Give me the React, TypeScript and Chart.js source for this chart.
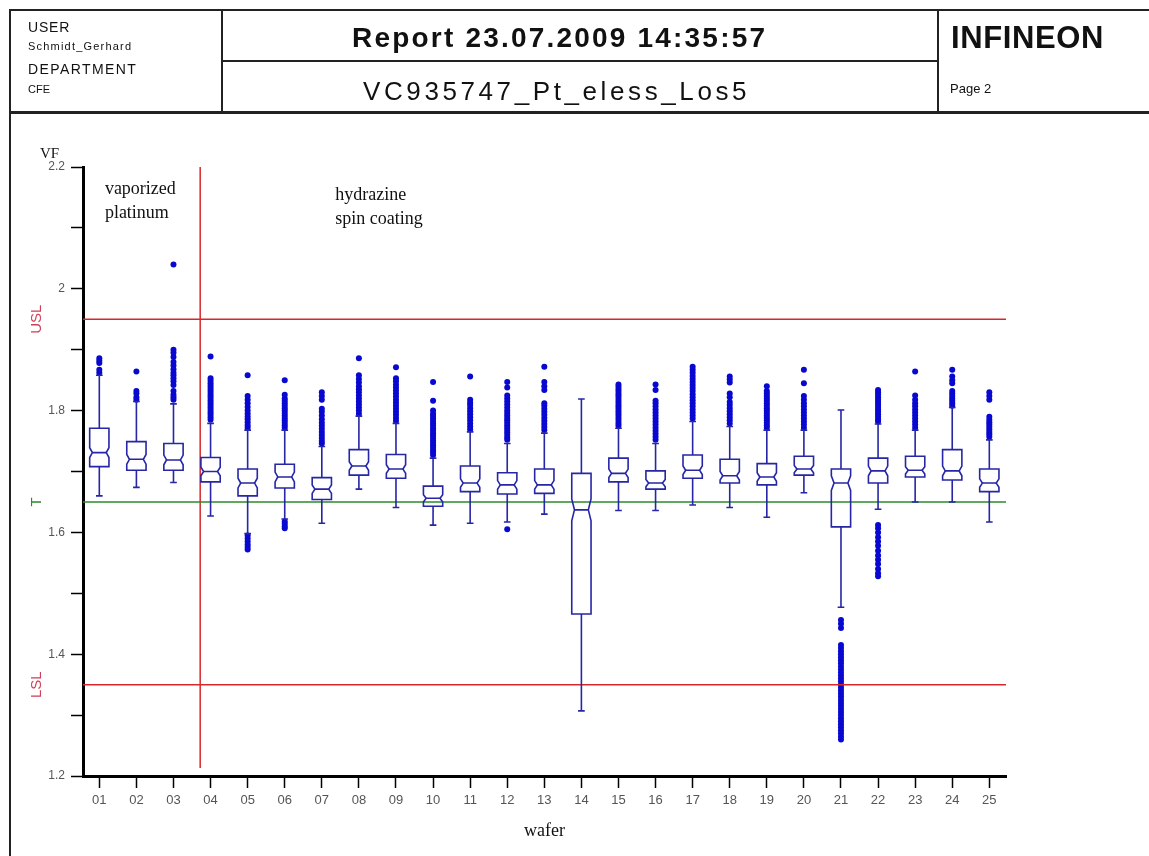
import { useEffect, useRef } from 'react';
import { Chart, registerables } from 'chart.js';

Chart.register(...registerables);

// ---------------- data ----------------
const wafers = ['01', '02', '03', '04', '05', '06', '07', '08', '09', '10', '11', '12', '13', '14', '15', '16', '17', '18', '19', '20', '21', '22', '23', '24', '25'];

const whiskerLow = [1.660, 1.674, 1.682, 1.627, 1.598, 1.622, 1.615, 1.671, 1.641, 1.612, 1.615, 1.617, 1.630, 1.307, 1.636, 1.636, 1.645, 1.641, 1.625, 1.665, 1.477, 1.638, 1.650, 1.650, 1.617];
const q1 = [1.708, 1.702, 1.702, 1.683, 1.660, 1.673, 1.654, 1.694, 1.689, 1.643, 1.667, 1.663, 1.664, 1.466, 1.683, 1.671, 1.689, 1.681, 1.678, 1.694, 1.609, 1.681, 1.691, 1.686, 1.667];
const median = [1.731, 1.720, 1.719, 1.700, 1.681, 1.691, 1.671, 1.709, 1.704, 1.656, 1.681, 1.678, 1.678, 1.637, 1.697, 1.681, 1.702, 1.693, 1.691, 1.704, 1.681, 1.701, 1.702, 1.701, 1.681];
const q3 = [1.771, 1.749, 1.746, 1.723, 1.704, 1.712, 1.690, 1.736, 1.728, 1.676, 1.709, 1.698, 1.704, 1.697, 1.722, 1.701, 1.727, 1.720, 1.713, 1.725, 1.704, 1.722, 1.725, 1.736, 1.704];
const whiskerHigh = [1.858, 1.815, 1.811, 1.779, 1.768, 1.768, 1.741, 1.791, 1.779, 1.722, 1.765, 1.746, 1.763, 1.819, 1.771, 1.746, 1.782, 1.774, 1.768, 1.768, 1.801, 1.778, 1.768, 1.805, 1.752];
const notchHalf = [0.008, 0.008, 0.008, 0.007, 0.008, 0.008, 0.007, 0.007, 0.007, 0.006, 0.007, 0.007, 0.007, 0.018, 0.007, 0.006, 0.007, 0.007, 0.007, 0.006, 0.012, 0.008, 0.006, 0.008, 0.007];

const outliers01 = [1.862, 1.867, 1.878, 1.882, 1.886];
const outliers02 = [1.818, 1.822, 1.828, 1.832, 1.864];
const outliers03 = [1.818, 1.822, 1.826, 1.832, 1.842, 1.848, 1.853, 1.858, 1.862, 1.868, 1.874, 1.880, 1.888, 1.895, 1.900, 2.040];
const outliers04 = [1.785, 1.789, 1.793, 1.797, 1.801, 1.805, 1.809, 1.813, 1.817, 1.821, 1.825, 1.829, 1.833, 1.837, 1.841, 1.845, 1.849, 1.853, 1.889];
const outliers05 = [1.572, 1.576, 1.580, 1.585, 1.590, 1.595, 1.772, 1.776, 1.781, 1.786, 1.790, 1.795, 1.800, 1.806, 1.812, 1.818, 1.824, 1.858];
const outliers06 = [1.607, 1.610, 1.614, 1.618, 1.772, 1.776, 1.780, 1.784, 1.788, 1.792, 1.796, 1.800, 1.804, 1.808, 1.812, 1.816, 1.820, 1.826, 1.850];
const outliers07 = [1.746, 1.750, 1.755, 1.760, 1.765, 1.770, 1.775, 1.780, 1.786, 1.792, 1.798, 1.803, 1.818, 1.824, 1.830];
const outliers08 = [1.795, 1.800, 1.805, 1.810, 1.815, 1.820, 1.825, 1.830, 1.835, 1.840, 1.846, 1.852, 1.858, 1.886];
const outliers09 = [1.783, 1.788, 1.793, 1.798, 1.803, 1.808, 1.813, 1.818, 1.823, 1.828, 1.833, 1.838, 1.843, 1.848, 1.853, 1.871];
const outliers10 = [1.727, 1.731, 1.735, 1.739, 1.743, 1.747, 1.751, 1.755, 1.759, 1.763, 1.767, 1.771, 1.775, 1.779, 1.783, 1.787, 1.791, 1.795, 1.800, 1.816, 1.847];
const outliers11 = [1.769, 1.774, 1.779, 1.784, 1.789, 1.794, 1.799, 1.804, 1.809, 1.813, 1.818, 1.856];
const outliers12 = [1.605, 1.752, 1.756, 1.760, 1.764, 1.768, 1.772, 1.776, 1.780, 1.784, 1.788, 1.792, 1.796, 1.800, 1.805, 1.810, 1.815, 1.820, 1.825, 1.838, 1.847];
const outliers13 = [1.768, 1.773, 1.778, 1.783, 1.788, 1.793, 1.798, 1.803, 1.808, 1.812, 1.834, 1.840, 1.847, 1.872];
const outliers14: number[] = [];
const outliers15 = [1.775, 1.779, 1.783, 1.787, 1.791, 1.795, 1.799, 1.803, 1.807, 1.811, 1.815, 1.819, 1.823, 1.827, 1.831, 1.835, 1.839, 1.843];
const outliers16 = [1.752, 1.757, 1.762, 1.767, 1.772, 1.777, 1.782, 1.787, 1.792, 1.797, 1.802, 1.807, 1.812, 1.816, 1.834, 1.843];
const outliers17 = [1.787, 1.792, 1.797, 1.802, 1.807, 1.812, 1.817, 1.822, 1.827, 1.832, 1.837, 1.842, 1.847, 1.852, 1.857, 1.862, 1.867, 1.872];
const outliers18 = [1.779, 1.784, 1.789, 1.794, 1.799, 1.804, 1.809, 1.814, 1.822, 1.828, 1.846, 1.851, 1.856];
const outliers19 = [1.772, 1.776, 1.780, 1.784, 1.788, 1.792, 1.796, 1.800, 1.804, 1.808, 1.812, 1.816, 1.820, 1.824, 1.828, 1.832, 1.840];
const outliers20 = [1.772, 1.777, 1.782, 1.787, 1.792, 1.797, 1.802, 1.807, 1.812, 1.818, 1.824, 1.845, 1.867];
const outliers21 = [1.260, 1.265, 1.270, 1.275, 1.280, 1.285, 1.290, 1.295, 1.300, 1.305, 1.310, 1.315, 1.320, 1.325, 1.330, 1.335, 1.340, 1.345, 1.350, 1.355, 1.360, 1.365, 1.370, 1.375, 1.380, 1.385, 1.390, 1.395, 1.400, 1.405, 1.410, 1.415, 1.443, 1.450, 1.456];
const outliers22 = [1.528, 1.533, 1.540, 1.548, 1.555, 1.562, 1.570, 1.578, 1.585, 1.592, 1.600, 1.607, 1.612, 1.782, 1.786, 1.790, 1.794, 1.798, 1.802, 1.806, 1.810, 1.814, 1.818, 1.822, 1.826, 1.830, 1.834];
const outliers23 = [1.772, 1.777, 1.782, 1.787, 1.792, 1.797, 1.802, 1.807, 1.812, 1.818, 1.825, 1.864];
const outliers24 = [1.808, 1.812, 1.816, 1.820, 1.824, 1.828, 1.832, 1.845, 1.850, 1.856, 1.867];
const outliers25 = [1.757, 1.761, 1.765, 1.769, 1.773, 1.777, 1.781, 1.785, 1.790, 1.818, 1.824, 1.830];

const outliers = [outliers01, outliers02, outliers03, outliers04, outliers05, outliers06, outliers07, outliers08, outliers09, outliers10, outliers11, outliers12, outliers13, outliers14, outliers15, outliers16, outliers17, outliers18, outliers19, outliers20, outliers21, outliers22, outliers23, outliers24, outliers25];

const yLabelTicks = [1.2, 1.4, 1.6, 1.8, 2, 2.2];
const yMinorTicks = [1.3, 1.5, 1.7, 1.9, 2.1];

const USL = 1.95;
const TARGET = 1.65;
const LSL = 1.35;
const SPLIT_X = 3.72;
const SPLIT_Y_LOW = 1.213;

const Y_MIN = 1.2;
const Y_MAX = 2.2;
const X_MIN = 0.56;
const X_MAX = 25.45;

// ---------------- styles ----------------
const BOX_COLOR = '#2626a6';
const DOT_COLOR = '#0808d0';
const RED = '#d8272b';
const GREEN = '#2b8a2b';
const BOX_HALF = 0.26;
const NOTCH_RATIO = 0.72;
const CAP_HALF = 0.09;

const boxPlugin = {
  id: 'notchedBoxes',
  afterDatasetsDraw(chart: any) {
    const { ctx } = chart;
    const xs = chart.scales.x;
    const ys = chart.scales.y;
    const halfW = xs.getPixelForValue(1 + BOX_HALF) - xs.getPixelForValue(1);
    const notchW = halfW * NOTCH_RATIO;
    const capW = xs.getPixelForValue(1 + CAP_HALF) - xs.getPixelForValue(1);
    ctx.save();
    ctx.strokeStyle = BOX_COLOR;
    ctx.lineWidth = 1.6;
    wafers.forEach((_, i) => {
      const cx = xs.getPixelForValue(i + 1);
      const pQ3 = ys.getPixelForValue(q3[i]);
      const pQ1 = ys.getPixelForValue(q1[i]);
      const pM = ys.getPixelForValue(median[i]);
      const pNH = ys.getPixelForValue(median[i] + notchHalf[i]);
      const pNL = ys.getPixelForValue(median[i] - notchHalf[i]);
      const pWH = ys.getPixelForValue(whiskerHigh[i]);
      const pWL = ys.getPixelForValue(whiskerLow[i]);
      ctx.beginPath();
      ctx.moveTo(cx - halfW, pQ3);
      ctx.lineTo(cx + halfW, pQ3);
      ctx.lineTo(cx + halfW, pNH);
      ctx.lineTo(cx + notchW, pM);
      ctx.lineTo(cx + halfW, pNL);
      ctx.lineTo(cx + halfW, pQ1);
      ctx.lineTo(cx - halfW, pQ1);
      ctx.lineTo(cx - halfW, pNL);
      ctx.lineTo(cx - notchW, pM);
      ctx.lineTo(cx - halfW, pNH);
      ctx.closePath();
      ctx.stroke();
      ctx.beginPath();
      ctx.moveTo(cx - notchW, pM);
      ctx.lineTo(cx + notchW, pM);
      // whiskers
      ctx.moveTo(cx, pQ3);
      ctx.lineTo(cx, pWH);
      ctx.moveTo(cx - capW, pWH);
      ctx.lineTo(cx + capW, pWH);
      ctx.moveTo(cx, pQ1);
      ctx.lineTo(cx, pWL);
      ctx.moveTo(cx - capW, pWL);
      ctx.lineTo(cx + capW, pWL);
      ctx.stroke();
    });
    ctx.restore();
  },
};

const textPlugin = {
  id: 'chartTexts',
  afterDraw(chart: any) {
    const { ctx, chartArea } = chart;
    const xs = chart.scales.x;
    const ys = chart.scales.y;
    ctx.save();
    ctx.fillStyle = '#111';
    ctx.textBaseline = 'alphabetic';
    ctx.textAlign = 'left';
    ctx.font = '15px "Liberation Serif"';
    ctx.fillText('VF', chartArea.left - 43, chartArea.top - 9);

    ctx.font = '18px "Liberation Serif"';
    ctx.fillText('vaporized', xs.getPixelForValue(1.15), ys.getPixelForValue(2.156));
    ctx.fillText('platinum', xs.getPixelForValue(1.15), ys.getPixelForValue(2.116));
    ctx.fillText('hydrazine', xs.getPixelForValue(7.36), ys.getPixelForValue(2.146));
    ctx.fillText('spin coating', xs.getPixelForValue(7.36), ys.getPixelForValue(2.106));

    const specLabel = (text: string, value: number, color: string) => {
      ctx.save();
      ctx.translate(chartArea.left - 46, ys.getPixelForValue(value));
      ctx.rotate(-Math.PI / 2);
      ctx.textAlign = 'center';
      ctx.textBaseline = 'middle';
      ctx.fillStyle = color;
      ctx.font = '15px "Liberation Sans"';
      ctx.fillText(text, 0, 0);
      ctx.restore();
    };
    specLabel('USL', USL, '#d0405a');
    specLabel('T', TARGET, GREEN);
    specLabel('LSL', LSL, '#d0405a');
    ctx.restore();
  },
};

export default function App() {
  const canvasRef = useRef<HTMLCanvasElement>(null);

  useEffect(() => {
    if (!canvasRef.current) return;
    const outlierPoints = outliers.flatMap((vals, i) => vals.map((v) => ({ x: i + 1, y: v })));
    const lineDs = (label: string, data: { x: number; y: number }[], color: string) => ({
      label,
      data,
      showLine: true,
      borderColor: color,
      borderWidth: 1.5,
      pointRadius: 0,
      fill: false,
      order: 0,
    });
    const tickFont = { family: '"Liberation Sans"', size: 12 };
    const chart = new Chart(canvasRef.current, {
      type: 'scatter',
      data: {
        datasets: [
          lineDs('USL', [{ x: X_MIN, y: USL }, { x: X_MAX, y: USL }], RED),
          lineDs('T', [{ x: X_MIN, y: TARGET }, { x: X_MAX, y: TARGET }], GREEN),
          lineDs('LSL', [{ x: X_MIN, y: LSL }, { x: X_MAX, y: LSL }], RED),
          lineDs('split', [{ x: SPLIT_X, y: SPLIT_Y_LOW }, { x: SPLIT_X, y: Y_MAX }], RED),
          {
            label: 'outliers',
            data: outlierPoints,
            pointRadius: 3,
            pointBackgroundColor: DOT_COLOR,
            pointBorderWidth: 0,
            borderWidth: 0,
            order: 5,
          },
        ],
      },
      options: {
        responsive: false,
        animation: false,
        devicePixelRatio: 1,
        events: [],
        layout: { padding: { left: 0, top: 167, right: 143, bottom: 0 } },
        plugins: {
          legend: { display: false },
          tooltip: { enabled: false },
          title: { display: false },
        },
        scales: {
          x: {
            type: 'linear',
            min: X_MIN,
            max: X_MAX,
            afterBuildTicks: (s: any) => {
              s.ticks = wafers.map((_, i) => ({ value: i + 1 }));
            },
            afterFit: (s: any) => {
              s.height = 80;
            },
            ticks: {
              autoSkip: false,
              maxRotation: 0,
              padding: 5,
              color: '#555',
              font: { family: '"Liberation Sans"', size: 13 },
              callback: (v: any) => wafers[Math.round(v) - 1] ?? '',
            },
            grid: { drawOnChartArea: false, drawTicks: true, tickLength: 12, tickWidth: 1.5, tickColor: '#000' },
            border: { display: true, color: '#000', width: 3 },
            title: {
              display: true,
              text: 'wafer',
              color: '#111',
              font: { family: '"Liberation Serif"', size: 18 },
              padding: { top: 0, bottom: 14 },
            },
          },
          y: {
            type: 'linear',
            min: Y_MIN,
            max: Y_MAX,
            afterBuildTicks: (s: any) => {
              s.ticks = [...yLabelTicks, ...yMinorTicks].sort((a, b) => a - b).map((v) => ({ value: v }));
            },
            afterFit: (s: any) => {
              s.width = 83;
            },
            ticks: {
              autoSkip: false,
              padding: 6,
              color: '#555',
              font: tickFont,
              callback: (v: any) => (yLabelTicks.includes(v) ? String(v) : ''),
            },
            grid: { drawOnChartArea: false, drawTicks: true, tickLength: 12, tickWidth: 1.5, tickColor: '#000' },
            border: { display: true, color: '#000', width: 3 },
          },
        },
      } as any,
      plugins: [boxPlugin, textPlugin],
    });
    return () => chart.destroy();
  }, []);

  const bar = (left: number, top: number, width: number, height: number) => (
    <div style={{ position: 'absolute', left, top, width, height, background: '#222' }} />
  );
  const txt = (content: string, left: number, top: number, size: number, extra: any = {}) => (
    <div
      style={{
        position: 'absolute',
        left,
        top,
        fontFamily: '"Liberation Sans", Arial, sans-serif',
        fontSize: size,
        lineHeight: 1,
        whiteSpace: 'nowrap',
        color: '#111',
        ...extra,
      }}
    >
      {content}
    </div>
  );

  return (
    <div style={{ position: 'absolute', left: 0, top: 0, width: 1149, height: 856, overflow: 'hidden', background: '#fff' }}>
      <canvas ref={canvasRef} width={1149} height={856} style={{ position: 'absolute', left: 0, top: 0, width: 1149, height: 856 }} />
      {bar(9, 9, 1140, 2)}
      {bar(9, 9, 2, 847)}
      {bar(221, 9, 2, 104)}
      {bar(937, 9, 2, 104)}
      {bar(221, 60, 717, 2)}
      {bar(9, 111, 1140, 3)}
      {txt('USER', 28, 20, 14, { letterSpacing: 0.8 })}
      {txt('Schmidt_Gerhard', 28, 41, 11, { letterSpacing: 1.2 })}
      {txt('DEPARTMENT', 28, 62, 14, { letterSpacing: 1.4 })}
      {txt('CFE', 28, 84, 11)}
      {txt('Report 23.07.2009 14:35:57', 352, 24, 28, { fontWeight: 'bold', letterSpacing: 2.2 })}
      {txt('VC935747_Pt_eless_Los5', 363, 78, 26, { letterSpacing: 3.6 })}
      {txt('INFINEON', 951, 22, 31, { fontWeight: 'bold', letterSpacing: 0.6 })}
      {txt('Page 2', 950, 82, 13)}
    </div>
  );
}
